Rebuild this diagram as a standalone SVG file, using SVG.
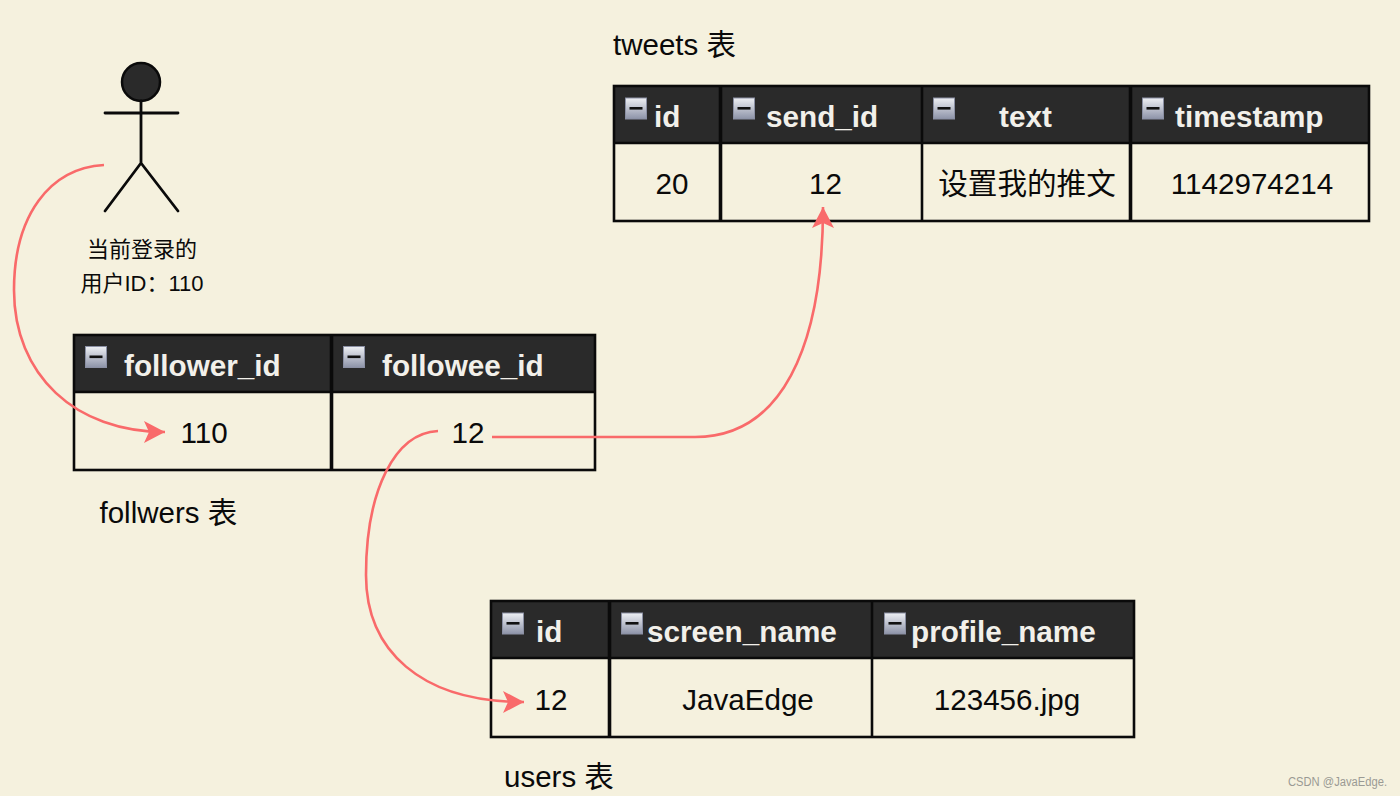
<svg xmlns="http://www.w3.org/2000/svg" width="1400" height="796" viewBox="0 0 1400 796">
<style>
.t{font-family:"Liberation Sans","Noto Sans CJK SC",sans-serif;fill:#0a0a0a}
.cap{font-size:29.500px}
.cell{font-size:29.600px;text-anchor:middle}
.hd{font-family:"Liberation Sans",sans-serif;font-size:29.700px;font-weight:bold;fill:#f2f0ea}
.who{font-size:22px;text-anchor:middle}
.bar{fill:#2a2a2a}
.box{fill:none;stroke:#0a0a0a;stroke-width:2.600}
.sep{stroke:#0a0a0a;stroke-width:2.600}
.thick{stroke:#0a0a0a;stroke-width:3.600}
.link{fill:none;stroke:#f96a6a;stroke-width:2.600}
.actor{fill:none;stroke:#0a0a0a;stroke-width:2.800;stroke-linecap:round}
</style>
<defs>
<linearGradient id="iconFill" x1="0" y1="0" x2="0" y2="1"><stop offset="0" stop-color="#eef0f4"/><stop offset="1" stop-color="#8d93a8"/></linearGradient>
<g id="collapse"><rect x="0" y="0" width="21" height="21" fill="url(#iconFill)" stroke="#8b90a4"/><rect x="4" y="9" width="13" height="2.600" fill="#111"/></g>
<marker id="head" markerUnits="userSpaceOnUse" markerWidth="24" markerHeight="24" refX="21" refY="11" orient="auto"><path d="M0 0L21 11L0 22L5 11Z" fill="#f96a6a"/></marker>
</defs>
<rect width="1400" height="796" fill="#f5f1de"/>

<g id="actor">
<circle cx="141" cy="82" r="19" fill="#2a2a2a" stroke="#0a0a0a" stroke-width="2.500"/>
<path class="actor" d="M141 101V163M105 113H178M141 163L105 211M141 163L178 211"/>
<text class="t who" x="142" y="257">当前登录的</text>
<text class="t who" x="142" y="291">用户ID：110</text>
</g>

<g id="tweets">
<text class="t cap" x="613" y="55">tweets 表</text>
<rect class="bar" x="614" y="86" width="755" height="57"/>
<rect class="box" x="614" y="86" width="755" height="135"/>
<path class="sep" d="M614 143H1369M922 86V221"/>
<path class="thick" d="M720.500 86V221M1130.500 86V221"/>
<use href="#collapse" x="625.500" y="98"/><use href="#collapse" x="733.500" y="98"/><use href="#collapse" x="933.500" y="98"/><use href="#collapse" x="1142.500" y="98"/>
<text class="hd" x="654" y="127">id</text>
<text class="hd" x="766" y="127">send_id</text>
<text class="hd" x="999" y="127">text</text>
<text class="hd" x="1175" y="127">timestamp</text>
<text class="t cell" x="672" y="194">20</text>
<text class="t cell" x="825.500" y="194">12</text>
<text class="t cell" x="1027" y="194">设置我的推文</text>
<text class="t cell" x="1252" y="194">1142974214</text>
</g>

<g id="followers">
<rect class="bar" x="74" y="335" width="521" height="57"/>
<rect class="box" x="74" y="335" width="521" height="135"/>
<path class="sep" d="M74 392H595"/>
<path class="thick" d="M331.500 335V470"/>
<use href="#collapse" x="85.500" y="346.500"/><use href="#collapse" x="343.500" y="346.500"/>
<text class="hd" x="124" y="376">follower_id</text>
<text class="hd" x="382" y="376">followee_id</text>
<text class="t cell" x="204" y="443">110</text>
<text class="t cell" x="468" y="443">12</text>
<text class="t cap" x="99.500" y="523">follwers 表</text>
</g>

<g id="users">
<rect class="bar" x="491" y="601" width="643" height="57"/>
<rect class="box" x="491" y="601" width="643" height="136"/>
<path class="sep" d="M491 658H1134M872 601V737"/>
<path class="thick" d="M609.500 601V737"/>
<use href="#collapse" x="502.500" y="613"/><use href="#collapse" x="621.500" y="613"/><use href="#collapse" x="884.500" y="613"/>
<text class="hd" x="536" y="642">id</text>
<text class="hd" x="647" y="642">screen_name</text>
<text class="hd" x="911" y="642">profile_name</text>
<text class="t cell" x="551" y="710">12</text>
<text class="t cell" x="748" y="710">JavaEdge</text>
<text class="t cell" x="1007" y="710">123456.jpg</text>
<text class="t cap" x="504" y="787">users 表</text>
</g>

<g id="connectors">
<path class="link" marker-end="url(#head)" d="M104 165C50 168 14 215 14 290C14 375 75 432 165 432"/>
<path class="link" marker-end="url(#head)" d="M492 437H695C780 437 823 350 823 207"/>
<path class="link" marker-end="url(#head)" d="M438 431C395 433 366 490 366 575C366 650 420 702 524 702"/>
</g>

<text x="1288" y="786" font-family="Liberation Sans, sans-serif" font-size="12.500" fill="#9a9a94" textLength="99" lengthAdjust="spacingAndGlyphs">CSDN @JavaEdge.</text>
</svg>
